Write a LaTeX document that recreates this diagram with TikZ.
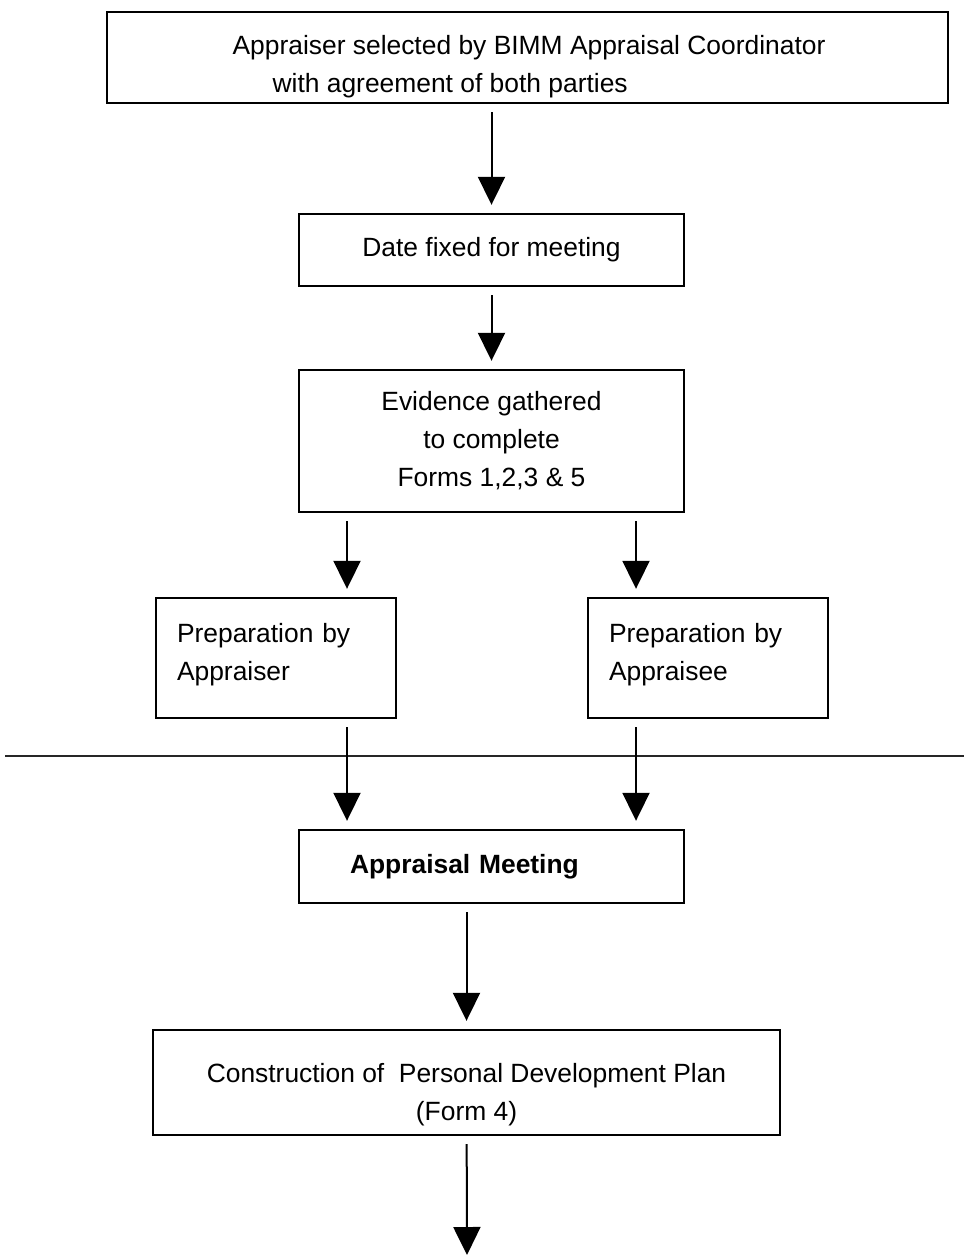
\documentclass[tikz,border=0pt]{standalone}
\usepackage{fontspec}
\setmainfont{Liberation Sans}
\usetikzlibrary{arrows.meta}

\begin{document}
\begin{tikzpicture}[x=1pt, y=-1pt,
        box/.style={draw, line width=2.4pt, inner sep=0pt, font=\fontsize{26.4}{38}\selectfont},
        arr/.style={line width=2pt, shorten <=8pt, shorten >=8pt, -{Triangle[width=27pt,length=28pt]}}]
    \useasboundingbox (0,0) rectangle (964,1255);
    % boxes
    \node[box, minimum width=841pt, minimum height=91pt] (select) at (527.5,57.5) {};
    \node[align=left, inner sep=0pt, font=\fontsize{26.4}{38}\selectfont] (selecttext) at (529,67) {Appraiser selected by BIMM Appraisal Coordinator\\\hspace*{40pt}with agreement of both parties};
    \node[box, minimum width=385pt, minimum height=72pt] (date) at (491.5,250) {Date fixed for meeting};
    \node[box, minimum width=385pt, minimum height=142pt, align=center] (evidence) at (491.5,441) {Evidence gathered\\to complete\\Forms 1,2,3 \& 5};
    \node[box, minimum width=240pt, minimum height=120pt, text width=198pt, align=left] (appraiser) at (276,658) {Preparation by\\Appraiser\rule[-12pt]{0pt}{1pt}};
    \node[box, minimum width=240pt, minimum height=120pt, text width=198pt, align=left] (appraisee) at (708,658) {Preparation by\\Appraisee\rule[-12pt]{0pt}{1pt}};
    \node[box, minimum width=385pt, minimum height=73pt, text width=283pt, align=left, font=\fontsize{26.4}{38}\selectfont\bfseries] (meeting) at (491.5,866.5) {Appraisal Meeting};
    \node[box, minimum width=627pt, minimum height=105pt, align=center] (plan) at (466.5,1082.5) {\rule{0pt}{44pt}Construction of~ Personal Development Plan\\(Form 4)};
    % divider
    \draw[line width=1.4pt, black!85] (5,756) -- (964,756);
    % arrows
    \coordinate (lx) at (347,0);
    \coordinate (rx) at (636,0);
    \coordinate (end) at (467,1255);
    \draw[arr] (date.north |- select.south) -- (date.north);
    \draw[arr] (date) -- (evidence);
    \draw[arr] (lx |- evidence.south) -- (lx |- appraiser.north);
    \draw[arr] (rx |- evidence.south) -- (rx |- appraisee.north);
    \draw[arr] (lx |- appraiser.south) -- (lx |- meeting.north);
    \draw[arr] (rx |- appraisee.south) -- (rx |- meeting.north);
    \draw[arr] (plan.north |- meeting.south) -- (plan.north);
    \draw[arr, shorten >=0pt] (plan) -- (end);
\end{tikzpicture}
\end{document}
